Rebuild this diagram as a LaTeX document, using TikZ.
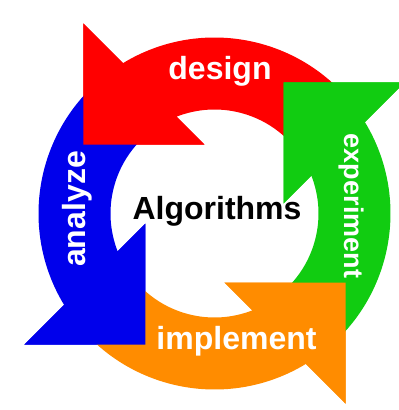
\documentclass[tikz,border=0pt]{standalone}
\usepackage{fontspec}
\setmainfont{Liberation Sans}
\definecolor{cyclered}{RGB}{255,0,0}
\definecolor{cyclegreen}{RGB}{17,204,17}
\definecolor{cycleorange}{RGB}{255,140,0}
\definecolor{cycleblue}{RGB}{0,0,235}

\begin{document}
\begin{tikzpicture}[x=1pt, y=1pt,
  word/.style={text=white, anchor=mid, font=\bfseries\fontsize{32}{36}\selectfont}]
  \useasboundingbox (-214.5,-196.5) rectangle (184.5,213.5);
  \clip (-214.5,-196.5) rectangle (184.5,213.5);
  \foreach \turn/\col in {0/cyclered, 90/cycleblue, 180/cycleorange, 270/cyclegreen}
    \fill[\col, rotate=\turn] (40:104pt) -- (40:176pt)
      arc[start angle=40, end angle=121.3, radius=176pt]
      -- (-131,190) -- (-131,69) -- (-10,69) -- (111.4:104pt)
      arc[start angle=111.4, end angle=40, radius=104pt] -- cycle;
  \foreach \turn/\col in {0/cyclered, 90/cycleblue, 180/cycleorange, 270/cyclegreen}
    \fill[\col, rotate=\turn] (-131,190) -- (-131,69) -- (-10,69) -- cycle;
  \node[word] (design) at (5.5,137) {design};
  \node[word, rotate=90] (analyze) at (-131.5,4.5) {analyze};
  \node[word] (implement) at (22,-133) {implement};
  \node[word, rotate=-90, font=\bfseries\fontsize{27}{30}\selectfont] (experiment) at (132.5,7.5) {experiment};
  \node[anchor=mid, font=\bfseries\fontsize{32}{36}\selectfont] (algorithms) at (2.5,-3) {Algorithms};
\end{tikzpicture}
\end{document}
